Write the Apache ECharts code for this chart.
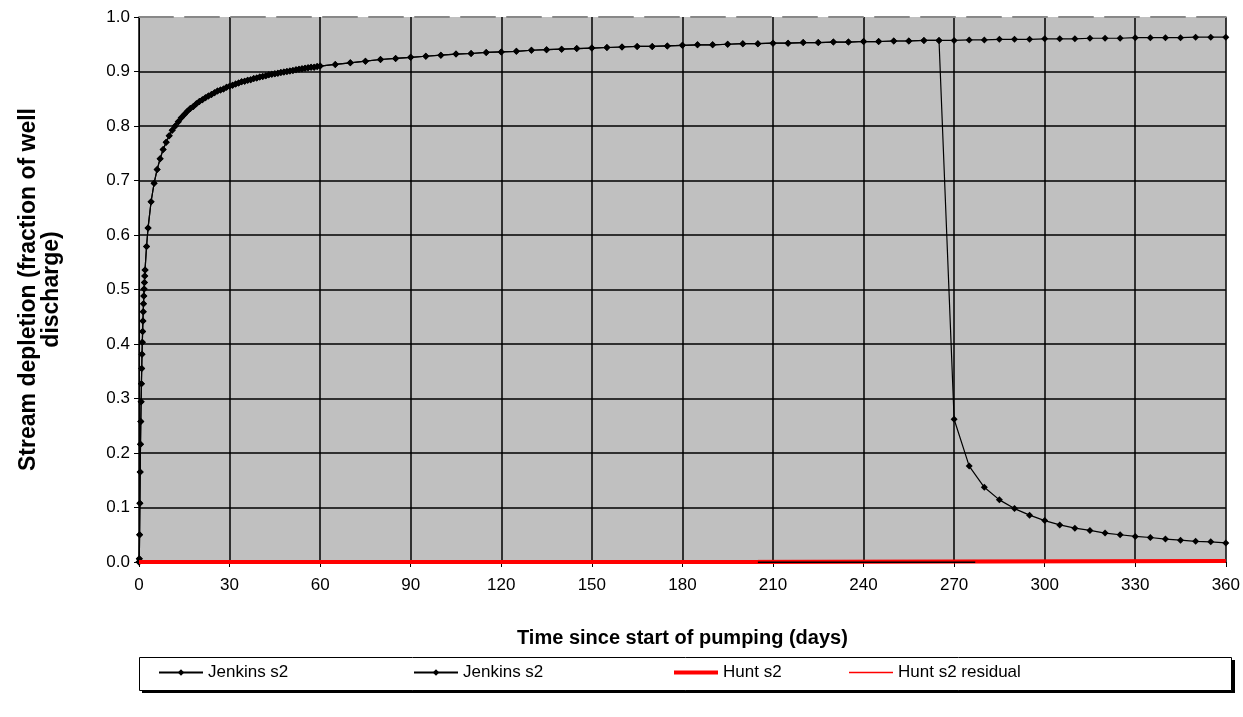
<!DOCTYPE html>
<html><head><meta charset="utf-8">
<script src="https://cdn.jsdelivr.net/npm/echarts@6/dist/echarts.min.js"></script>
<style>html,body{margin:0;padding:0;background:#fff}#c{width:1243px;height:717px}</style>
</head><body><div id="c"></div>
<script>
// ---- data ----
const earlyDays   = [0, 0.1, 0.2, 0.3, 0.4, 0.5, 0.6, 0.7, 0.8, 0.9, 1.0, 1.1, 1.2, 1.3, 1.4, 1.5, 1.6, 1.7, 1.8, 1.9, 2.0, 2.5];
const earlyValues = [0, 0.006, 0.050, 0.108, 0.165, 0.216, 0.258, 0.294, 0.327, 0.355, 0.381, 0.403, 0.423, 0.442, 0.459, 0.474, 0.488, 0.501, 0.513, 0.525, 0.536, 0.579];

const midDays   = [3, 4, 5, 6, 7, 8, 9, 10, 11, 12, 13, 14, 15, 16, 17, 18, 19, 20, 21, 22, 23, 24, 25, 26, 27, 28, 29, 30,
                   31, 32, 33, 34, 35, 36, 37, 38, 39, 40, 41, 42, 43, 44, 45, 46, 47, 48, 49, 50, 51, 52, 53, 54, 55, 56, 57, 58, 59, 60];
const midValues = [0.613, 0.661, 0.695, 0.720, 0.740, 0.757, 0.770, 0.782, 0.792, 0.800, 0.808, 0.815, 0.821, 0.827, 0.832, 0.836,
                   0.841, 0.845, 0.848, 0.852, 0.855, 0.858, 0.861, 0.864, 0.866, 0.868, 0.871, 0.873, 0.875, 0.877, 0.879, 0.881,
                   0.882, 0.884, 0.885, 0.887, 0.888, 0.890, 0.891, 0.892, 0.894, 0.895, 0.896, 0.897, 0.898, 0.899, 0.900, 0.901,
                   0.902, 0.903, 0.904, 0.905, 0.906, 0.907, 0.908, 0.908, 0.909, 0.910];

const lateDays   = [65, 70, 75, 80, 85, 90, 95, 100, 105, 110, 115, 120, 125, 130, 135, 140, 145, 150, 155, 160, 165, 170, 175, 180,
                    185, 190, 195, 200, 205, 210, 215, 220, 225, 230, 235, 240, 245, 250, 255, 260, 265, 270, 275, 280, 285, 290,
                    295, 300, 305, 310, 315, 320, 325, 330, 335, 340, 345, 350, 355, 360];
const lateValues = [0.913, 0.916, 0.919, 0.922, 0.924, 0.926, 0.928, 0.930, 0.932, 0.933, 0.935, 0.936, 0.937, 0.939, 0.940, 0.941,
                    0.942, 0.943, 0.944, 0.945, 0.946, 0.946, 0.947, 0.948, 0.949, 0.949, 0.950, 0.951, 0.951, 0.952, 0.952, 0.953,
                    0.953, 0.954, 0.954, 0.955, 0.955, 0.956, 0.956, 0.957, 0.957, 0.957, 0.958, 0.958, 0.959, 0.959, 0.959, 0.960,
                    0.960, 0.960, 0.961, 0.961, 0.961, 0.962, 0.962, 0.962, 0.962, 0.963, 0.963, 0.963];

// second Jenkins run: pumping stops at day 265
const stopDay = 265;
const recoveryDays   = [270, 275, 280, 285, 290, 295, 300, 305, 310, 315, 320, 325, 330, 335, 340, 345, 350, 355, 360];
const recoveryValues = [0.262, 0.176, 0.137, 0.114, 0.098, 0.086, 0.076, 0.068, 0.062, 0.058, 0.053, 0.050, 0.047, 0.045, 0.042, 0.040, 0.038, 0.037, 0.035];

const huntDays   = [0, 205, 205, 360];
const huntValues = [0, 0, 0.002, 0.002];
const residualDays   = [205, 360];
const residualValues = [0.003, 0.003];
const baseDays   = [205, 277];
const baseValues = [-0.001, -0.001];

const xTickStep = 30;
const yTickStep = 0.1;

const seriesNames = ['Jenkins s2', 'Jenkins s2 ', 'Hunt s2', 'Hunt s2 residual'];
const xTitle = 'Time since start of pumping (days)';
const yTitle = 'Stream depletion (fraction of well\ndischarge)';

// ---- build ----
const pair = (ds, vs) => ds.map((d, i) => [d, vs[i]]);
const jenkins1 = pair(earlyDays.concat(midDays, lateDays), earlyValues.concat(midValues, lateValues));
const jenkins2 = jenkins1.filter(p => p[0] <= stopDay).concat(pair(recoveryDays, recoveryValues));

const FONT = 'Liberation Sans, Arial, sans-serif';
const chart = echarts.init(document.getElementById('c'));

const legendBase = {
  top: 664, itemWidth: 44, itemHeight: 8, padding: 0, itemGap: 0,
  textStyle: {fontFamily: FONT, fontSize: 17, color: '#000'}, z: 10
};

chart.setOption({
  animation: false,
  backgroundColor: '#fff',
  grid: {left: 139, right: 17, top: 17, bottom: 155, show: true, backgroundColor: '#C0C0C0', borderWidth: 0},
  graphic: [
    {type: 'rect', z: 1, shape: {x: 142, y: 660, width: 1093, height: 33}, style: {fill: '#000'}},
    {type: 'rect', z: 2, shape: {x: 139.5, y: 657.5, width: 1092, height: 33},
     style: {fill: '#fff', stroke: '#000', lineWidth: 1}}
  ],
  legend: [
    Object.assign({}, legendBase, {left: 158, data: [seriesNames[0]]}),
    Object.assign({}, legendBase, {left: 413, data: [seriesNames[1]]}),
    Object.assign({}, legendBase, {left: 674, itemHeight: 4, icon: 'rect', data: [seriesNames[2]]}),
    Object.assign({}, legendBase, {left: 849, itemHeight: 1.5, icon: 'rect', data: [seriesNames[3]]})
  ],
  xAxis: [{
    type: 'value', min: 0, max: 360, interval: xTickStep,
    name: xTitle, nameLocation: 'middle', nameGap: 66,
    nameTextStyle: {fontFamily: FONT, fontSize: 20, fontWeight: 'bold', color: '#000'},
    axisLine: {show: true, onZero: false, lineStyle: {color: '#000', width: 1}},
    axisTick: {show: true, inside: false, length: 5, lineStyle: {color: '#000'}},
    axisLabel: {fontFamily: FONT, fontSize: 17, color: '#000', margin: 15},
    splitLine: {show: true, showMinLine: true, showMaxLine: true, lineStyle: {color: '#000', width: 1.5}}
  }, {
    type: 'value', min: 0, max: 360, position: 'top',
    axisLine: {show: true, onZero: false, lineStyle: {color: '#888888', width: 2, type: [34, 12]}},
    axisTick: {show: false}, axisLabel: {show: false}, splitLine: {show: false}
  }],
  yAxis: {
    type: 'value', min: 0, max: 1, interval: yTickStep,
    name: yTitle, nameLocation: 'middle', nameGap: 76,
    nameTextStyle: {fontFamily: FONT, fontSize: 23, fontWeight: 'bold', color: '#000', lineHeight: 23},
    axisLine: {show: true, lineStyle: {color: '#000', width: 1}},
    axisTick: {show: true, inside: false, length: 5, lineStyle: {color: '#000'}},
    axisLabel: {fontFamily: FONT, fontSize: 17, color: '#000', margin: 9, formatter: v => v.toFixed(1)},
    splitLine: {show: true, showMaxLine: false, lineStyle: {color: '#000', width: 1.5}}
  },
  series: [
    {name: seriesNames[0], type: 'line', data: jenkins1, symbol: 'diamond', symbolSize: 7, showSymbol: true,
     itemStyle: {color: '#000'}, lineStyle: {color: '#000', width: 1.2}, z: 3},
    {name: seriesNames[1], type: 'line', data: jenkins2, symbol: 'diamond', symbolSize: 7, showSymbol: true,
     itemStyle: {color: '#000'}, lineStyle: {color: '#000', width: 1.2}, z: 3},
    {type: 'line', data: pair(baseDays, baseValues), symbol: 'none', lineStyle: {color: '#000', width: 2}, z: 5},
    {name: seriesNames[2], type: 'line', data: pair(huntDays, huntValues), symbol: 'none',
     itemStyle: {color: '#FF0000'}, lineStyle: {color: '#FF0000', width: 4}, z: 4},
    {name: seriesNames[3], type: 'line', data: pair(residualDays, residualValues), symbol: 'none',
     itemStyle: {color: '#FF0000'}, lineStyle: {color: '#FF0000', width: 1}, z: 4}
  ]
});
</script></body></html>
